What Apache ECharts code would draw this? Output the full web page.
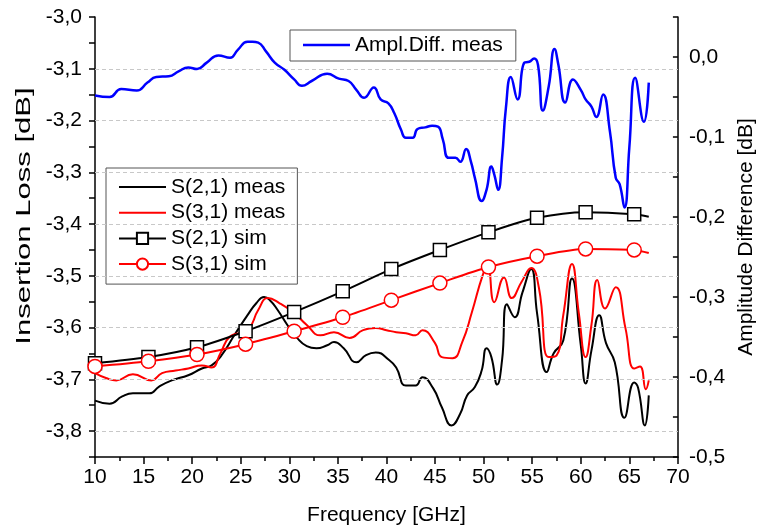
<!DOCTYPE html>
<html><head><meta charset="utf-8">
<script src="https://cdn.jsdelivr.net/npm/echarts@6/dist/echarts.min.js"></script>
<style>html,body{margin:0;padding:0;background:#fff}#c{width:765px;height:532px}</style>
</head><body><div id="c"></div>
<script>
// ---- data ----
const amplFreq = [10.0,11.5,12.7,14.3,15.4,16.3,17.6,18.6,19.6,20.5,21.5,22.7,23.9,24.7,25.7,26.2,26.8,27.6,28.5,29.5,30.5,31.3,32.3,33.9,35.1,36.1,36.9,37.7,38.7,39.4,40.2,40.8,41.5,42.0,42.7,43.2,44.0,44.7,45.3,45.8,46.4,47.1,47.6,48.2,48.7,49.1,49.8,50.3,50.8,51.1,51.5,51.9,52.3,52.8,53.5,54.2,54.7,55.2,55.6,56.1,56.7,57.3,57.7,58.4,59.2,60.0,60.5,61.1,61.6,62.3,63.0,63.6,64.0,64.5,65.0,65.6,66.5,67.0];
const amplDiff = [-0.048,-0.050,-0.040,-0.042,-0.032,-0.025,-0.024,-0.018,-0.013,-0.015,-0.007,0.002,-0.001,0.009,0.019,0.019,0.018,0.007,-0.007,-0.016,-0.028,-0.036,-0.030,-0.021,-0.027,-0.030,-0.041,-0.051,-0.038,-0.053,-0.058,-0.070,-0.091,-0.101,-0.101,-0.090,-0.088,-0.086,-0.087,-0.103,-0.126,-0.126,-0.131,-0.115,-0.131,-0.151,-0.180,-0.166,-0.137,-0.147,-0.166,-0.126,-0.063,-0.025,-0.053,-0.007,-0.006,-0.002,-0.010,-0.067,-0.037,0.010,-0.010,-0.057,-0.028,-0.041,-0.053,-0.062,-0.075,-0.047,-0.093,-0.151,-0.159,-0.188,-0.113,-0.026,-0.081,-0.032];

const s21Freq = [10,11.5,12.8,13.9,15.6,16.6,17.9,19.6,21.0,22.0,23.0,24.4,25.7,26.6,27.4,28.0,28.8,29.8,30.8,31.8,32.8,33.9,34.6,35.6,36.9,37.9,38.9,40.3,41.0,42.0,43.0,43.7,44.8,45.7,46.7,47.6,48.3,49.1,49.8,50.3,50.8,51.4,51.9,52.4,53.2,54.0,54.9,55.5,56.5,57.2,58.2,59.1,60.0,60.5,61.1,61.9,62.6,63.5,64.5,65.5,65.9,66.6,67.0];
const s21Meas = [-3.741,-3.747,-3.733,-3.727,-3.727,-3.714,-3.702,-3.692,-3.679,-3.673,-3.654,-3.613,-3.576,-3.553,-3.541,-3.547,-3.566,-3.595,-3.620,-3.636,-3.640,-3.634,-3.628,-3.640,-3.667,-3.653,-3.648,-3.663,-3.677,-3.712,-3.712,-3.696,-3.717,-3.754,-3.789,-3.766,-3.731,-3.715,-3.683,-3.640,-3.657,-3.710,-3.663,-3.555,-3.580,-3.532,-3.487,-3.572,-3.686,-3.650,-3.625,-3.505,-3.634,-3.708,-3.644,-3.576,-3.630,-3.667,-3.774,-3.706,-3.716,-3.789,-3.731];

const s31Freq = [10,11.2,12.2,13.9,15.8,16.9,18.3,19.6,21.0,22.0,22.9,23.9,25.7,26.8,27.8,29.0,30.5,31.8,33.2,34.6,36.2,37.6,38.9,40.0,41.0,42.0,43.0,43.7,45.0,45.7,46.8,47.8,48.8,49.9,50.4,51.1,52.1,52.9,53.9,54.9,55.7,56.7,57.5,58.2,59.1,59.8,60.5,61.1,61.7,62.5,63.6,64.6,65.5,66.1,66.7,67.0];
const s31Meas = [-3.688,-3.698,-3.702,-3.690,-3.702,-3.688,-3.683,-3.679,-3.673,-3.677,-3.650,-3.617,-3.605,-3.566,-3.543,-3.553,-3.572,-3.595,-3.615,-3.609,-3.620,-3.605,-3.601,-3.605,-3.609,-3.611,-3.615,-3.605,-3.630,-3.657,-3.659,-3.628,-3.570,-3.499,-3.481,-3.551,-3.503,-3.543,-3.512,-3.485,-3.524,-3.657,-3.654,-3.576,-3.477,-3.572,-3.657,-3.595,-3.508,-3.563,-3.522,-3.601,-3.679,-3.675,-3.719,-3.702];

const simFreq = [10,15.5,20.5,25.5,30.5,35.5,40.5,45.5,50.5,55.5,60.5,65.5,67.0];
const s21Sim = [-3.669,-3.657,-3.638,-3.607,-3.570,-3.530,-3.487,-3.450,-3.416,-3.388,-3.377,-3.381,-3.386];
const s31Sim = [-3.675,-3.665,-3.652,-3.632,-3.607,-3.580,-3.547,-3.514,-3.483,-3.462,-3.448,-3.450,-3.456];

const leftGridValues = [-3.1,-3.2,-3.3,-3.4,-3.5,-3.6,-3.7,-3.8];

// ---- chart ----
const FONT = '"Liberation Sans", Arial, sans-serif';
const zip = (xs, ys) => xs.map((x, i) => [x, ys[i]]);
const simData = (xs, ys) => xs.map((x, i) => i === xs.length - 1 ? {value: [x, ys[i]], symbol: 'none'} : [x, ys[i]]);
const fmt = v => { const k = Math.round(v * 100); return k % 10 === 0 ? (k / 100).toFixed(1).replace('.', ',') : ''; };
const txt = {fontFamily: FONT, fontSize: 21, color: '#000'};
const lineIcon = 'path://M0,0H47V2H0Z';
const lineIconThick = 'path://M0,0H47V2.5H0Z';

const chart = echarts.init(document.getElementById('c'), null, {renderer: 'canvas'});
chart.setOption({
  animation: false,
  backgroundColor: '#fff',
  grid: {left: 95, right: 79, top: 17, bottom: 75, containLabel: false},
  graphic: [{
    type: 'text', x: 24, y: 216, rotation: Math.PI / 2, scaleX: 1.48, silent: true,
    style: {text: 'Insertion Loss [dB]', font: '21px ' + FONT, fill: '#000',
            align: 'center', verticalAlign: 'middle', textAlign: 'center', textVerticalAlign: 'middle'}
  }],
  legend: [
    {
      data: [{name: 'Ampl.Diff. meas', icon: lineIconThick}], left: 290, top: 30, orient: 'vertical',
      itemWidth: 47, itemHeight: 14, padding: [4, 13, 5, 13],
      borderColor: '#555', borderWidth: 1, backgroundColor: '#fff',
      textStyle: Object.assign({lineHeight: 22}, txt), selectedMode: false
    },
    {
      data: [{name: 'S(2,1) meas', icon: lineIcon}, {name: 'S(3,1) meas', icon: lineIcon}, 'S(2,1) sim', 'S(3,1) sim'],
      left: 106, top: 168, orient: 'vertical', itemGap: 3.7,
      itemWidth: 47, itemHeight: 14, padding: [8, 12, 9, 12],
      borderColor: '#555', borderWidth: 1, backgroundColor: '#fff',
      textStyle: Object.assign({lineHeight: 22}, txt), selectedMode: false
    }
  ],
  xAxis: {
    type: 'value', min: 10, max: 70, interval: 5,
    name: 'Frequency [GHz]', nameLocation: 'middle', nameGap: 48, nameTextStyle: txt,
    axisLine: {show: true, onZero: false, lineStyle: {color: '#000', width: 1.5}},
    axisTick: {show: true, length: 7, lineStyle: {color: '#000', width: 1.5}},
    minorTick: {show: true, splitNumber: 2, length: 4, lineStyle: {color: '#000', width: 1.5}},
    axisLabel: Object.assign({margin: 10}, txt),
    splitLine: {show: false}
  },
  yAxis: [
    {
      type: 'value', position: 'left', min: -3.85, max: -3.0, interval: 0.05,
      axisLine: {show: true, onZero: false, lineStyle: {color: '#000', width: 1.5}},
      axisTick: {show: true, length: 6, lineStyle: {color: '#000', width: 1.5}},
      axisLabel: Object.assign({margin: 13, formatter: fmt}, txt),
      splitLine: {show: false}
    },
    {
      type: 'value', position: 'right', min: -0.5, max: 0.05, interval: 0.05,
      name: 'Amplitude Difference [dB]', nameLocation: 'middle', nameGap: 56, nameTextStyle: txt,
      axisLine: {show: true, onZero: false, lineStyle: {color: '#000', width: 1.5}},
      axisTick: {show: true, inside: true, length: 5, lineStyle: {color: '#000', width: 1.5}},
      axisLabel: Object.assign({margin: 11, formatter: fmt}, txt),
      splitLine: {show: false}
    }
  ],
  series: [
    {
      name: 'gridlines', type: 'line', yAxisIndex: 0, data: [], z: 1, silent: true,
      markLine: {
        silent: true, symbol: 'none', label: {show: false}, animation: false,
        lineStyle: {color: '#c8c8c8', type: [4, 3], width: 1},
        data: leftGridValues.map(v => ({yAxis: v}))
      }
    },
    {
      name: 'S(2,1) meas', type: 'line', yAxisIndex: 0, data: zip(s21Freq, s21Meas),
      symbol: 'none', smooth: 0.5, z: 3,
      lineStyle: {color: '#000', width: 2}, itemStyle: {color: '#000'}
    },
    {
      name: 'S(3,1) meas', type: 'line', yAxisIndex: 0, data: zip(s31Freq, s31Meas),
      symbol: 'none', smooth: 0.5, z: 4,
      lineStyle: {color: '#ff0000', width: 2}, itemStyle: {color: '#ff0000'}
    },
    {
      name: 'S(2,1) sim', type: 'line', yAxisIndex: 0, data: simData(simFreq, s21Sim),
      symbol: 'rect', symbolSize: 13, showSymbol: true, smooth: 0.3, z: 5,
      lineStyle: {color: '#000', width: 2},
      itemStyle: {color: '#fff', borderColor: '#000', borderWidth: 1.5}
    },
    {
      name: 'S(3,1) sim', type: 'line', yAxisIndex: 0, data: simData(simFreq, s31Sim),
      symbol: 'circle', symbolSize: 14, showSymbol: true, smooth: 0.3, z: 6,
      lineStyle: {color: '#ff0000', width: 2},
      itemStyle: {color: '#fff', borderColor: '#ff0000', borderWidth: 1.5}
    },
    {
      name: 'Ampl.Diff. meas', type: 'line', yAxisIndex: 1, data: zip(amplFreq, amplDiff),
      symbol: 'none', smooth: 0.5, z: 7,
      lineStyle: {color: '#0000ff', width: 2.5}, itemStyle: {color: '#0000ff'}
    }
  ]
});
</script>
</body></html>
